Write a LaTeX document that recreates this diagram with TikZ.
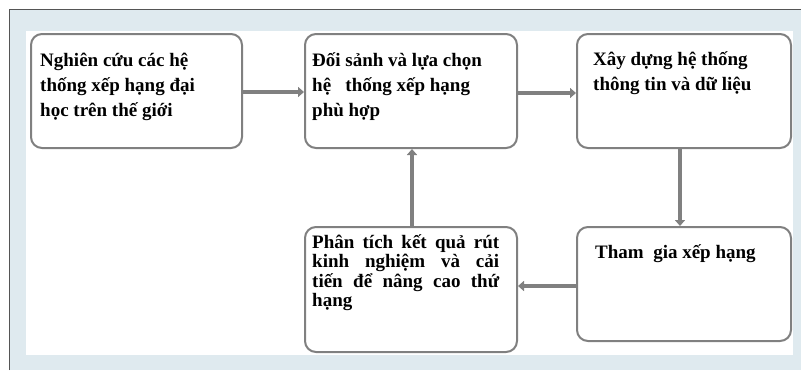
\documentclass[tikz,border=0pt]{standalone}
\usepackage{fontspec}
\setmainfont{Liberation Serif}
\usetikzlibrary{arrows.meta}
\definecolor{bgblue}{HTML}{DFEAEF}
\definecolor{boxgray}{HTML}{808080}
\definecolor{framegray}{HTML}{555555}
\tikzset{
  stepbox/.style={draw=boxgray, line width=2pt, rounded corners=11pt, fill=white, inner sep=0pt},
  steptext/.style={anchor=base west, inner sep=0pt, align=left, font=\bfseries\fontsize{19}{25}\selectfont, text=black},
  flowarrow/.style={draw=boxgray, line width=4.5pt, -{Triangle[length=6pt,width=10pt]}},
}
\begin{document}
\begin{tikzpicture}[x=1pt,y=-1pt]
\useasboundingbox (0,0) rectangle (801,370);
% background
\fill[bgblue] (9,9) rectangle (801,370);
\fill[white] (26,31) rectangle (793,355);
\draw[framegray, line width=1pt] (9,370) -- (9,9) -- (801,9);
% boxes
\node (b1) [stepbox, minimum width=211pt, minimum height=114pt] at (136.5,91) {};
\node (b2) [stepbox, minimum width=212pt, minimum height=114pt] at (411,91) {};
\node (b3) [stepbox, minimum width=214pt, minimum height=114pt] at (684,91) {};
\node (b4) [stepbox, minimum width=212pt, minimum height=125pt] at (411,289.5) {};
\node (b5) [stepbox, minimum width=214pt, minimum height=114pt] at (684,284) {};
% texts (anchored at the baseline of the last line)
\node[steptext] (t1) at (40,116) {Nghiên cứu các hệ\\thống xếp hạng đại\\học trên thế giới};
\node[steptext] (t2) at (312,116) {Đối sảnh và lựa chọn\\hệ\ \ \ thống xếp hạng\\phù hợp};
\node[steptext] (t3) at (593,90) {Xây dựng hệ thống\\thông tin và dữ liệu};
\node[steptext] (t5) at (595,258) {Tham\ \ gia xếp hạng};
\node[steptext, font=\bfseries\fontsize{19}{19.5}\selectfont] (t4) at (312,306.5) {%
\makebox[187pt][s]{Phân tích kết quả rút}\\
\makebox[187pt][s]{kinh nghiệm và cải}\\
\makebox[187pt][s]{tiến để nâng cao thứ}\\
hạng};
% arrows
\draw[flowarrow] (b1.east |- 0,92) -- (b2.west |- 0,92);
\draw[flowarrow] (b2.east |- 0,93) -- (b3.west |- 0,93);
\draw[flowarrow] (b3.south -| 680,0) -- (b5.north -| 680,0);
\draw[flowarrow] (b5.west |- 0,286) -- (b4.east |- 0,286);
\draw[flowarrow] (b4.north -| 412,0) -- (b2.south -| 412,0);
\end{tikzpicture}
\end{document}
